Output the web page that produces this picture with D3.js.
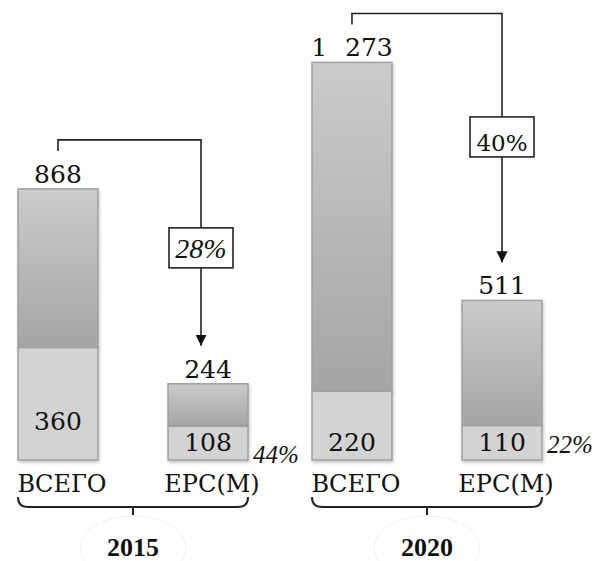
<!DOCTYPE html>
<html>
<head>
<meta charset="utf-8">
<script src="https://cdn.jsdelivr.net/npm/d3@7"></script>
<style>
  html, body { margin: 0; padding: 0; background: #fff; }
  svg { display: block; font-family: "DejaVu Serif", serif; }
</style>
</head>
<body>
<svg id="chart" width="594" height="561"></svg>
<script>
// Chart data
const years = ['2015', '2020'];
const categories = ['ВСЕГО', 'ЕРС(М)'];
const totalValues = [[868, 244], [1273, 511]];   // full bar per year / category
const partValues = [[360, 108], [220, 110]];     // lower segment per year / category

const width = 594, height = 561;
const baseline = 460;

const svg = d3.select('#chart');
const ruLocale = d3.formatLocale({ decimal: ',', thousands: ' ', grouping: [3], currency: ['', ''] });
const fmtNum = ruLocale.format(',');
const fmtPct = d3.format('.0%');

// Scales
const x0 = d3.scaleBand().domain(years).range([4, 592]);
const x1 = d3.scaleBand().domain(categories).range([14, 244]).paddingInner(0.467).paddingOuter(0);
const y = d3.scaleLinear().domain([0, 1300]).range([baseline, 54]);

// Defs: gradient, shadow, arrow
const defs = svg.append('defs');
const grad = defs.append('linearGradient').attr('id', 'barGrad')
    .attr('x1', 0).attr('y1', 0).attr('x2', 0).attr('y2', 1);
grad.append('stop').attr('offset', '0%').attr('stop-color', '#cbcbcb');
grad.append('stop').attr('offset', '100%').attr('stop-color', '#a5a5a5');

const shadow = defs.append('filter').attr('id', 'shadow')
    .attr('x', '-10%').attr('y', '-10%').attr('width', '130%').attr('height', '130%');
shadow.append('feDropShadow').attr('dx', 1).attr('dy', 2).attr('stdDeviation', 1.5)
    .attr('flood-color', '#000').attr('flood-opacity', 0.22);

defs.append('marker').attr('id', 'arrow')
    .attr('viewBox', '0 0 10 10').attr('refX', 10).attr('refY', 5)
    .attr('markerWidth', 7).attr('markerHeight', 7).attr('markerUnits', 'strokeWidth')
    .attr('orient', 'auto')
    .append('path').attr('d', 'M0,0 L10,5 L0,10 Z').attr('fill', '#111');

// Flatten to bar records
const bars = [];
years.forEach((yr, i) => {
    categories.forEach((cat, j) => {
        bars.push({
            year: yr, cat: cat, yi: i, ci: j,
            total: totalValues[i][j], part: partValues[i][j],
            x: x0(yr) + x1(cat), w: x1.bandwidth()
        });
    });
});

const g = svg.append('g');

// Upper (gradient) part
g.selectAll('rect.upper')
    .data(bars)
    .enter()
    .append('rect')
    .attr('class', 'upper')
    .attr('x', d => d.x)
    .attr('y', d => y(d.total))
    .attr('width', d => d.w)
    .attr('height', d => y(d.part) - y(d.total))
    .attr('fill', 'url(#barGrad)')
    .attr('stroke', '#a0a0a0')
    .attr('stroke-width', 1.5)
    .attr('filter', 'url(#shadow)');

// Lower (flat) part
g.selectAll('rect.lower')
    .data(bars)
    .enter()
    .append('rect')
    .attr('class', 'lower')
    .attr('x', d => d.x)
    .attr('y', d => y(d.part))
    .attr('width', d => d.w)
    .attr('height', d => baseline - y(d.part))
    .attr('fill', '#d3d3d3')
    .attr('stroke', '#a0a0a0')
    .attr('stroke-width', 1.5)
    .attr('filter', 'url(#shadow)');

// Total labels above the bars
g.selectAll('text.total')
    .data(bars)
    .enter()
    .append('text')
    .attr('class', 'total')
    .attr('x', d => d.x + d.w / 2)
    .attr('y', d => y(d.total) - 6)
    .attr('text-anchor', 'middle')
    .attr('font-size', '25px')
    .attr('word-spacing', '10px')
    .attr('fill', '#111')
    .text(d => fmtNum(d.total));

// Part labels inside lower segment
g.selectAll('text.part')
    .data(bars)
    .enter()
    .append('text')
    .attr('class', 'part')
    .attr('x', d => d.x + d.w / 2)
    .attr('y', d => d.yi === 0 && d.ci === 0 ? baseline - 30 : baseline - 9)
    .attr('text-anchor', 'middle')
    .attr('font-size', '25px')
    .attr('fill', '#111')
    .text(d => fmtNum(d.part));

// Category labels
g.selectAll('text.cat')
    .data(bars)
    .enter()
    .append('text')
    .attr('class', 'cat')
    .attr('x', d => d.x + d.w / 2 + 4)
    .attr('y', 492)
    .attr('text-anchor', 'middle')
    .attr('font-size', '24px')
    .attr('fill', '#111')
    .text(d => d.cat);

// Share of part in ЕРС(М) bars
const ersBars = bars.filter(d => d.ci === 1);
g.selectAll('text.share')
    .data(ersBars)
    .enter()
    .append('text')
    .attr('class', 'share')
    .attr('x', d => d.x + d.w + 5)
    .attr('y', d => d.yi === 0 ? baseline + 3 : baseline - 7)
    .attr('font-family', 'Liberation Serif')
    .attr('font-size', '25px')
    .attr('font-style', 'italic')
    .attr('fill', '#111')
    .text(d => fmtPct(d.part / d.total));

// Connectors: total bar -> ЕРС(М) bar with ratio box
years.forEach((yr, i) => {
    const a = bars.find(d => d.yi === i && d.ci === 0);
    const b = bars.find(d => d.yi === i && d.ci === 1);
    const ax = a.x + a.w / 2;
    const bx = b.x + b.w / 2 - (i === 0 ? 7 : 0);
    const startY = y(a.total) - 38;
    const topY = startY - 11;
    const endY = y(b.total) - 38;

    g.append('path')
        .attr('d', `M${ax},${startY} V${topY} H${bx} V${endY}`)
        .attr('fill', 'none')
        .attr('stroke', '#222')
        .attr('stroke-width', 1.6)
        .attr('marker-end', 'url(#arrow)');

    const boxW = 64, boxH = 40;
    const boxY = (topY + endY) / 2 - boxH / 2 + (i === 0 ? 5 : -1);
    g.append('rect')
        .attr('x', bx - boxW / 2)
        .attr('y', boxY)
        .attr('width', boxW)
        .attr('height', boxH)
        .attr('fill', '#fff')
        .attr('stroke', '#222')
        .attr('stroke-width', 1.6);

    g.append('text')
        .attr('x', bx)
        .attr('y', boxY + boxH - (i === 0 ? 10 : 6))
        .attr('text-anchor', 'middle')
        .attr('font-family', i === 0 ? 'Liberation Serif' : 'DejaVu Serif')
        .attr('font-size', i === 0 ? '28px' : '23px')
        .attr('font-style', i === 0 ? 'italic' : 'normal')
        .attr('fill', '#111')
        .text(fmtPct(b.total / a.total));

    // Brace under group
    const l = a.x, r = b.x + b.w, c = (l + r) / 2;
    const by0 = 497, by1 = 507;
    g.append('path')
        .attr('d', `M${l},${by0} Q${l},${by1} ${l + 10},${by1} H${r - 10} Q${r},${by1} ${r},${by0}
                    M${c},${by1} V${by1 + 8}`)
        .attr('fill', 'none')
        .attr('stroke', '#222')
        .attr('stroke-width', 2);

    // Faint ring behind year
    g.append('ellipse')
        .attr('cx', c)
        .attr('cy', 548)
        .attr('rx', 53)
        .attr('ry', 32)
        .attr('fill', 'none')
        .attr('stroke', '#f0f0f0')
        .attr('stroke-width', 1);

    g.append('text')
        .attr('x', c)
        .attr('y', 556)
        .attr('text-anchor', 'middle')
        .attr('font-family', 'Liberation Serif')
        .attr('font-size', '26px')
        .attr('font-weight', 'bold')
        .attr('fill', '#111')
        .text(yr);
});
</script>
</body>
</html>
